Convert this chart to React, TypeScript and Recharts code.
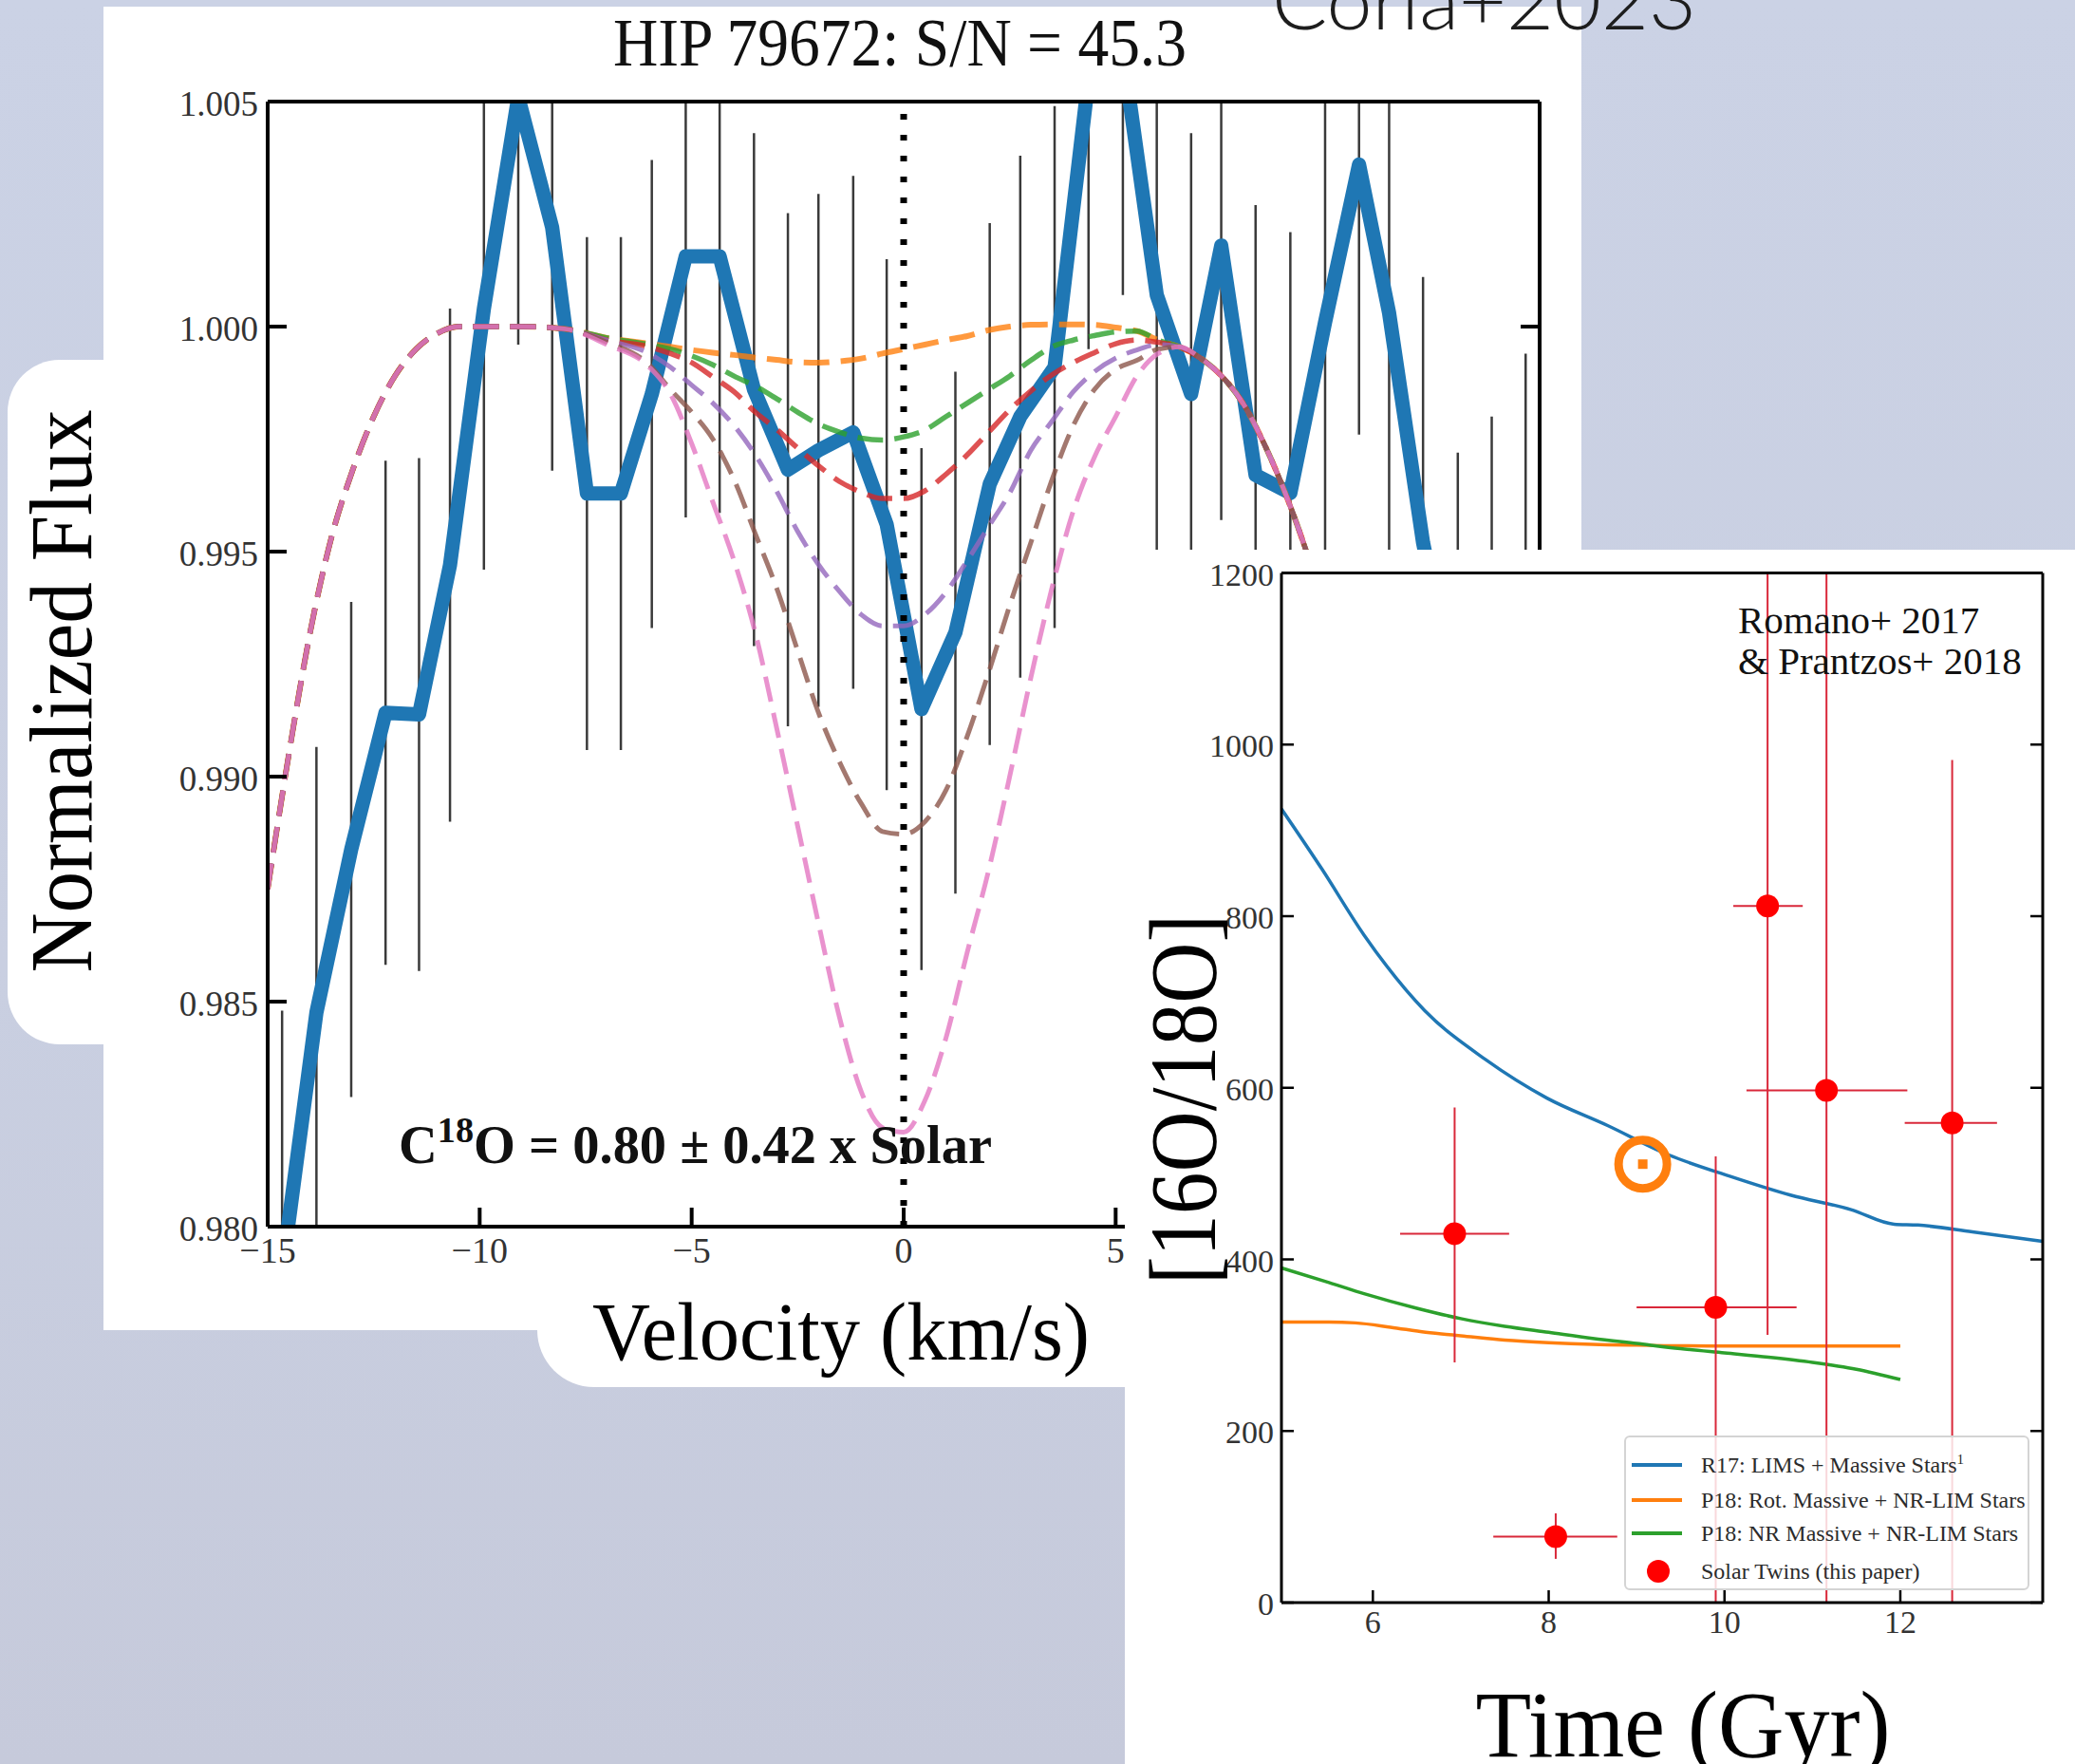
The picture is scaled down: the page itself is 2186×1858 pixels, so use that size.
import React from "react";
import {
  LineChart,
  ComposedChart,
  Line,
  Scatter,
  XAxis,
  YAxis,
  ErrorBar,
  ReferenceLine,
  Legend,
} from "recharts";

const SERIF = "'Liberation Serif', 'Times New Roman', Times, serif";

// ---------- left panel: HIP 79672 C18O line ----------
const VEL_TICKS = [-15, -10, -5, 0, 5, 10, 15];
const FLUX_TICKS = [0.98, 0.985, 0.99, 0.995, 1.0, 1.005];

const OBS_VEL = [
  -14.66, -13.85, -13.03, -12.22, -11.43, -10.7, -9.9, -9.09, -8.29, -7.47,
  -6.67, -5.94, -5.14, -4.34, -3.53, -2.73, -2.01, -1.19, -0.4, 0.42, 1.22,
  2.03, 2.75, 3.56, 4.36, 5.17, 5.97, 6.78, 7.49, 8.3, 9.12, 9.94, 10.74,
  11.45, 12.25, 13.07, 13.87, 14.67,
];
const OBS_FLUX = [
  0.979, 0.98476, 0.98838, 0.99142, 0.99138, 0.9947, 1.0004, 1.0051, 1.0022,
  0.99629, 0.99629, 0.9985, 1.00156, 1.00156, 0.9986, 0.99682, 0.99725,
  0.99765, 0.9956, 0.9915, 0.9932, 0.9965, 0.998, 0.9991, 1.0055, 1.0061,
  1.0007, 0.9985, 1.0018, 0.9967, 0.9963, 1.0001, 1.0036, 1.0003, 0.9952,
  0.9915, 0.9923, 0.9937,
];
const OBS_ERR = [
  0.0058, 0.0059, 0.0055, 0.0056, 0.0057, 0.0057, 0.0058, 0.0055, 0.0054,
  0.0057, 0.0057, 0.0052, 0.0058, 0.0057, 0.0057, 0.0057, 0.0057, 0.0057,
  0.0059, 0.0058, 0.0058, 0.0058, 0.0058, 0.0058, 0.006, 0.0054, 0.0058,
  0.0058, 0.0061, 0.006, 0.0058, 0.0058, 0.006, 0.0058, 0.0059, 0.0057,
  0.0057, 0.0057,
];

const MODEL_VEL = [
  -15, -14.5, -14, -13.5, -13, -12.5, -12, -11.5, -11, -10.5, -10, -9, -8,
  -7, -6, -5.5, -5, -4.5, -4, -3.5, -3, -2.5, -2, -1.5, -1, -0.5, 0, 0.5, 1,
  1.5, 2, 2.5, 3, 3.5, 4, 4.5, 5, 5.5, 6, 6.5,
  7, 7.5, 8, 8.5, 9, 9.5, 10, 10.5, 11,
];
// wings shared by every model
const WING_LEFT = [
  0.9875, 0.9905, 0.9932, 0.9953, 0.9968, 0.998, 0.9989, 0.9995, 0.99985,
  1.0, 1.0, 1.0, 0.99995,
];
const WING_RIGHT = [0.9993, 0.9989, 0.9983, 0.9974, 0.9963, 0.995, 0.9935, 0.9918, 0.99];
// line cores, v = -7 .. 6.5
const CORE_ORANGE = [
  0.99975, 0.99962, 0.99955, 0.99948, 0.99942, 0.99937, 0.99931, 0.99926,
  0.99921, 0.9992, 0.99923, 0.99929, 0.9994, 0.9995, 0.9996, 0.9997, 0.99979,
  0.99992, 1.0, 1.00004, 1.00005, 1.00005, 1.00004, 0.99998, 0.9999, 0.9997,
  0.99955,
];
const CORE_GREEN = [
  0.99975, 0.9996, 0.9995, 0.99935, 0.99915, 0.9989, 0.99868, 0.9984, 0.9981,
  0.99783, 0.99765, 0.99752, 0.99748, 0.99755, 0.9977, 0.998, 0.9983, 0.9986,
  0.9989, 0.99925, 0.99955, 0.9997, 0.9998, 0.99988, 0.9999, 0.9997, 0.99955,
];
const CORE_RED = [
  0.9997, 0.99955, 0.9994, 0.9992, 0.99888, 0.99855, 0.9981, 0.99772, 0.9973,
  0.9969, 0.99655, 0.99632, 0.99618, 0.99618, 0.99635, 0.99672, 0.99715,
  0.99765, 0.99815, 0.99857, 0.99893, 0.9992, 0.99942, 0.99962, 0.9997,
  0.99965, 0.99955,
];
const CORE_PURPLE = [
  0.9997, 0.9994, 0.9991, 0.9987, 0.9983, 0.9978, 0.99715, 0.99635, 0.99545,
  0.9947, 0.9941, 0.9936, 0.99335, 0.99335, 0.9936, 0.9941, 0.9948, 0.99555,
  0.9963, 0.99725, 0.9979, 0.99855, 0.999, 0.9993, 0.99948, 0.9996, 0.99955,
];
const CORE_BROWN = [
  0.99965, 0.99915, 0.9986, 0.9981, 0.9975, 0.9966, 0.9954, 0.9942, 0.9928,
  0.9914, 0.9903, 0.9894, 0.98878, 0.98872, 0.989, 0.9897, 0.9909, 0.9923,
  0.9938, 0.9952, 0.9966, 0.9978, 0.9986, 0.99905, 0.99925, 0.9995, 0.99955,
];
const CORE_PINK = [
  0.9996, 0.9991, 0.9985, 0.9974, 0.9961, 0.9948, 0.9932, 0.9911, 0.9889,
  0.9867, 0.9846, 0.983, 0.9822, 0.9821, 0.9828, 0.9842, 0.9861, 0.9879, 0.99,
  0.9922, 0.9942, 0.9959, 0.9971, 0.998, 0.9989, 0.9994, 0.99955,
];

const MODELS = [
  { key: "m1", color: "#ff7f0e", core: CORE_ORANGE, w: 6 },
  { key: "m2", color: "#2ca02c", core: CORE_GREEN, w: 5.5 },
  { key: "m3", color: "#d62728", core: CORE_RED, w: 5.5 },
  { key: "m4", color: "#9467bd", core: CORE_PURPLE, w: 5 },
  { key: "m5", color: "#8c564b", core: CORE_BROWN, w: 5 },
  { key: "m6", color: "#e377c2", core: CORE_PINK, w: 5 },
];

const obsData = OBS_VEL.map((v, i) => ({ v, flux: OBS_FLUX[i], err: OBS_ERR[i] }));
const modelData = MODEL_VEL.map((v, i) => {
  const row: Record<string, number> = { v };
  MODELS.forEach((m) => {
    row[m.key] = [...WING_LEFT, ...m.core, ...WING_RIGHT][i];
  });
  return row;
});

// ---------- right panel: 16O/18O vs time ----------
const TIME_TICKS = [6, 8, 10, 12];
const RATIO_TICKS = [0, 200, 400, 600, 800, 1000, 1200];

const R17_T = [4.96, 5.42, 5.9, 6.59, 7.28, 7.98, 8.67, 9.36, 10.06, 10.75, 11.44, 11.93, 12.2, 12.82, 13.62];
const R17_V = [925, 855, 778, 690, 633, 588, 556, 522, 497, 475, 458, 441, 440, 432, 421];
const P18ROT_T = [4.96, 5.5, 5.8, 6.2, 6.6, 7.0, 7.5, 8.0, 8.5, 9.0, 10.0, 11.0, 12.0];
const P18ROT_V = [327, 327, 326, 321, 315, 311, 306, 303, 301, 300, 299, 299, 299];
const P18NR_T = [4.96, 5.5, 5.9, 6.5, 7.0, 7.5, 8.0, 8.5, 9.0, 9.5, 10.0, 10.5, 11.0, 11.5, 12.0];
const P18NR_V = [390, 373, 360, 343, 331, 322, 315, 308, 302, 296, 291, 286, 280, 272, 260];

const TWIN_T = [6.93, 8.08, 9.9, 10.49, 11.16, 12.59];
const TWIN_V = [430, 77, 344, 812, 597, 559];
const TWIN_T_ERR = [[0.62, 0.62], [0.71, 0.7], [0.9, 0.92], [0.39, 0.4], [0.91, 0.92], [0.54, 0.51]];
const TWIN_V_ERR = [[150, 147], [26, 27], [360, 176], [500, 500], [700, 700], [600, 423]];

const SUN_T = [9.07];
const SUN_V = [511];

const BLUE = "#1f77b4";
const ORANGE = "#ff7f0e";
const GREEN = "#2ca02c";
const RED = "#ff0000";
const ERR_RED = "#d9283a";

const r17Data = R17_T.map((t, i) => ({ t, v: R17_V[i] }));
const rotData = P18ROT_T.map((t, i) => ({ t, v: P18ROT_V[i] }));
const nrData = P18NR_T.map((t, i) => ({ t, v: P18NR_V[i] }));
const twinData = TWIN_T.map((t, i) => ({ t, v: TWIN_V[i], tErr: TWIN_T_ERR[i], vErr: TWIN_V_ERR[i] }));
const sunData = SUN_T.map((t, i) => ({ t, v: SUN_V[i] }));

const LEGEND_ROWS = [
  { label: "R17: LIMS + Massive Stars", sup: "1", color: BLUE, dot: false, cy: 29 },
  { label: "P18: Rot. Massive + NR-LIM Stars", sup: "", color: ORANGE, dot: false, cy: 66 },
  { label: "P18: NR Massive + NR-LIM Stars", sup: "", color: GREEN, dot: false, cy: 101 },
  { label: "Solar Twins (this paper)", sup: "", color: RED, dot: true, cy: 141 },
];

const minus = (v: number) => (v < 0 ? `\u2212${Math.abs(v)}` : `${v}`);

// inward tick marks with labels outside (matplotlib "in" style)
function tickFactory(side: string, len: number, sw: number, label?: (v: number) => string, fs = 36, gap = 10, base = 14) {
  return (p: any) => {
    const { x, y, payload } = p;
    const v = payload.value;
    let l = null;
    if (side === "left") l = <line x1={x} y1={y} x2={x + len} y2={y} stroke="#000" strokeWidth={sw} />;
    if (side === "right") l = <line x1={x} y1={y} x2={x - len} y2={y} stroke="#000" strokeWidth={sw} />;
    if (side === "bottom") l = <line x1={x} y1={y} x2={x} y2={y - len} stroke="#000" strokeWidth={sw} />;
    if (side === "top") l = <line x1={x} y1={y} x2={x} y2={y + len} stroke="#000" strokeWidth={sw} />;
    let t = null;
    if (label && side === "left")
      t = (
        <text x={x - gap} y={y + base} textAnchor="end" fontFamily={SERIF} fontSize={fs} fill="#333">
          {label(v)}
        </text>
      );
    if (label && side === "bottom")
      t = (
        <text x={x} y={y + base} textAnchor="middle" fontFamily={SERIF} fontSize={fs} fill="#333">
          {label(v)}
        </text>
      );
    return (
      <g>
        {l}
        {t}
      </g>
    );
  };
}

const axisBase = { tickSize: 0, tickMargin: 0, tickLine: false, interval: 0 as const, allowDataOverflow: true };

function FluxChart() {
  const frame = { stroke: "#000", strokeWidth: 4 };
  return (
    <LineChart width={1557} height={1394} margin={{ top: 96, right: 40, bottom: 49, left: 93 }}>
      <XAxis {...axisBase} type="number" dataKey="v" domain={[-15, 15]} ticks={VEL_TICKS} height={60} axisLine={frame} tick={tickFactory("bottom", 20, 4, minus, 38, 0, 38)} />
      <XAxis {...axisBase} xAxisId="top" orientation="top" type="number" domain={[-15, 15]} ticks={VEL_TICKS} height={4} axisLine={frame} tick={tickFactory("top", 20, 4)} />
      <YAxis {...axisBase} type="number" domain={[0.98, 1.005]} ticks={FLUX_TICKS} width={80} axisLine={frame} tick={tickFactory("left", 20, 4, (v) => v.toFixed(3), 37, 10, 15)} />
      <YAxis {...axisBase} yAxisId="right" orientation="right" type="number" domain={[0.98, 1.005]} ticks={FLUX_TICKS} width={4} axisLine={frame} tick={tickFactory("right", 20, 4)} />
      <Line data={obsData} dataKey="flux" type="linear" stroke="#1f77b4" strokeWidth={15} strokeLinejoin="round" dot={false} activeDot={false} isAnimationActive={false}>
        <ErrorBar dataKey="err" direction="y" width={0} stroke="#3a3a3a" strokeWidth={2.5} clipPath="url(#fluxPlotClip)" />
      </Line>
      {MODELS.map((m) => (
        <Line
          key={m.key}
          data={modelData}
          dataKey={m.key}
          type="monotone"
          stroke={m.color}
          strokeOpacity={0.8}
          strokeWidth={m.w}
          strokeDasharray="27 12"
          dot={false}
          activeDot={false}
          isAnimationActive={false}
        />
      ))}
      <ReferenceLine x={0} stroke="#000" strokeWidth={7} strokeDasharray="6 16" />
    </LineChart>
  );
}

function RatioLegend() {
  return (
    <div
      style={{
        width: 427,
        height: 163,
        boxSizing: "border-box",
        border: "2px solid #d4d4d4",
        borderRadius: 6,
        background: "rgba(255,255,255,0.82)",
        position: "relative",
        fontFamily: SERIF,
        fontSize: 24,
        color: "#2b2b2b",
      }}
    >
      {LEGEND_ROWS.map((r) => (
        <div key={r.label} style={{ position: "absolute", left: 0, top: r.cy - 18, height: 36, display: "flex", alignItems: "center", whiteSpace: "nowrap" }}>
          <svg width={79} height={36}>
            {r.dot ? <circle cx={34} cy={18} r={12} fill={r.color} /> : <line x1={6} y1={18} x2={59} y2={18} stroke={r.color} strokeWidth={4} />}
          </svg>
          <span>
            {r.label}
            {r.sup ? <sup style={{ fontSize: 15 }}>{r.sup}</sup> : null}
          </span>
        </div>
      ))}
    </div>
  );
}

const SunShape = (p: any) => (
  <g>
    <circle cx={p.cx} cy={p.cy} r={25.5} fill="none" stroke={ORANGE} strokeWidth={9} />
    <rect x={p.cx - 5} y={p.cy - 5} width={10} height={10} fill={ORANGE} />
  </g>
);
const TwinShape = (p: any) => <circle cx={p.cx} cy={p.cy} r={12} fill={RED} />;

function RatioChart() {
  const frame = { stroke: "#000", strokeWidth: 3 };
  return (
    <ComposedChart width={1001} height={1279} margin={{ top: 20.5, right: 30, bottom: 110, left: 85 }}>
      <XAxis {...axisBase} type="number" dataKey="t" domain={[4.96, 13.62]} ticks={TIME_TICKS} height={60} axisLine={frame} tick={tickFactory("bottom", 13, 2.5, (v) => `${v}`, 34, 0, 32)} />
      <XAxis {...axisBase} xAxisId="top" orientation="top" type="number" domain={[4.96, 13.62]} ticks={TIME_TICKS} height={4} axisLine={frame} tick={tickFactory("top", 13, 2.5)} />
      <YAxis {...axisBase} type="number" domain={[0, 1200]} ticks={RATIO_TICKS} width={80} axisLine={frame} tick={tickFactory("left", 13, 2.5, (v) => `${v}`, 34, 8, 13)} />
      <YAxis {...axisBase} yAxisId="right" orientation="right" type="number" domain={[0, 1200]} ticks={RATIO_TICKS} width={4} axisLine={frame} tick={tickFactory("right", 13, 2.5)} />
      <Line data={r17Data} dataKey="v" name="R17" type="monotone" stroke={BLUE} strokeWidth={3.5} dot={false} activeDot={false} isAnimationActive={false} />
      <Line data={rotData} dataKey="v" name="P18 rot" type="monotone" stroke={ORANGE} strokeWidth={3.5} dot={false} activeDot={false} isAnimationActive={false} />
      <Line data={nrData} dataKey="v" name="P18 NR" type="monotone" stroke={GREEN} strokeWidth={3.5} dot={false} activeDot={false} isAnimationActive={false} />
      <Scatter data={twinData} dataKey="v" name="Solar Twins" shape={TwinShape} isAnimationActive={false}>
        <ErrorBar dataKey="tErr" direction="x" width={0} stroke={ERR_RED} strokeWidth={2} clipPath="url(#ratioPlotClip)" />
        <ErrorBar dataKey="vErr" direction="y" width={0} stroke={ERR_RED} strokeWidth={2} clipPath="url(#ratioPlotClip)" />
      </Scatter>
      <Scatter data={sunData} dataKey="v" name="Sun" legendType="none" shape={SunShape} isAnimationActive={false} />
      <Legend
        content={() => <RatioLegend />}
        layout="vertical"
        align="center"
        verticalAlign="middle"
        wrapperStyle={{ left: 526, top: 933, width: 427, height: 163 }}
      />
    </ComposedChart>
  );
}

// error bars are kept inside each plotting box (matplotlib clips them)
const CLIP_CSS = `
.flux-wrap .recharts-errorBar { clip-path: url(#fluxPlotClip); }
.ratio-wrap .recharts-errorBar { clip-path: url(#ratioPlotClip); }
`;

export default function App() {
  return (
    <div
      style={{
        position: "absolute",
        left: 0,
        top: 0,
        width: 2186,
        height: 1858,
        overflow: "hidden",
        background: "linear-gradient(180deg, #cbd2e5 0%, #c9cfe1 55%, #c6cadb 100%)",
      }}
    >
      <style>{CLIP_CSS}</style>
      <svg width={0} height={0} style={{ position: "absolute" }}>
        <defs>
          <clipPath id="fluxPlotClip" clipPathUnits="userSpaceOnUse">
            <rect x={173} y={100} width={1340} height={1185} />
          </clipPath>
          <clipPath id="ratioPlotClip" clipPathUnits="userSpaceOnUse">
            <rect x={165} y={24.5} width={802} height={1084.5} />
          </clipPath>
        </defs>
      </svg>

      {/* white backing of the spectrum figure */}
      <svg width={2186} height={1858} style={{ position: "absolute", left: 0, top: 0 }}>
        <rect x={109} y={7} width={1557} height={1394} fill="#fff" />
        <rect x={8} y={379} width={200} height={721} rx={55} fill="#fff" />
        <rect x={566} y={1300} width={700} height={161} rx={60} fill="#fff" />
      </svg>

      <div className="flux-wrap" style={{ position: "absolute", left: 109, top: 7 }}>
        <FluxChart />
      </div>

      <svg width={2186} height={1858} style={{ position: "absolute", left: 0, top: 0, pointerEvents: "none" }}>
        <text x={948} y={69} textAnchor="middle" fontFamily={SERIF} fontSize={71} textLength={604} lengthAdjust="spacingAndGlyphs" fill="#111">
          HIP 79672: S/N = 45.3
        </text>
        <text transform="translate(96,728) rotate(-90)" textAnchor="middle" fontFamily={SERIF} fontSize={94} textLength={593} lengthAdjust="spacingAndGlyphs" fill="#000">
          Normalized Flux
        </text>
        <text x={886} y={1432} textAnchor="middle" fontFamily={SERIF} fontSize={86} textLength={524} lengthAdjust="spacingAndGlyphs" fill="#000">
          Velocity (km/s)
        </text>
        <text x={420} y={1225} fontFamily={SERIF} fontWeight="bold" fontSize={56} textLength={625} lengthAdjust="spacingAndGlyphs" fill="#111">
          C<tspan dy={-22} fontSize={38}>18</tspan>
          <tspan dy={22}>O = 0.80 ± 0.42 x Solar</tspan>
        </text>
      </svg>

      {/* inset: oxygen isotope ratio vs time */}
      <div className="ratio-wrap" style={{ position: "absolute", left: 1185, top: 579, width: 1001, height: 1279, background: "#fff" }}>
        <RatioChart />
      </div>

      <svg width={2186} height={1858} style={{ position: "absolute", left: 0, top: 0, pointerEvents: "none" }}>
        <text x={1831} y={667} fontFamily={SERIF} fontSize={41} fill="#111">
          Romano+ 2017
        </text>
        <text x={1831} y={710} fontFamily={SERIF} fontSize={41} fill="#111">
          &amp; Prantzos+ 2018
        </text>
        <text transform="translate(1280,1158) rotate(-90)" textAnchor="middle" fontFamily={SERIF} fontSize={100} textLength={390} lengthAdjust="spacingAndGlyphs" fill="#000">
          [16O/18O]
        </text>
        <text x={1773} y={1850} textAnchor="middle" fontFamily={SERIF} fontSize={100} textLength={437} lengthAdjust="spacingAndGlyphs" fill="#000">
          Time (Gyr)
        </text>
        <text x={1340} y={31} fontFamily="Lato, 'Open Sans', sans-serif" fontWeight={300} fontSize={84} textLength={447} lengthAdjust="spacingAndGlyphs" fill="#1d1d1d">
          Coria+2023
        </text>
      </svg>
    </div>
  );
}
